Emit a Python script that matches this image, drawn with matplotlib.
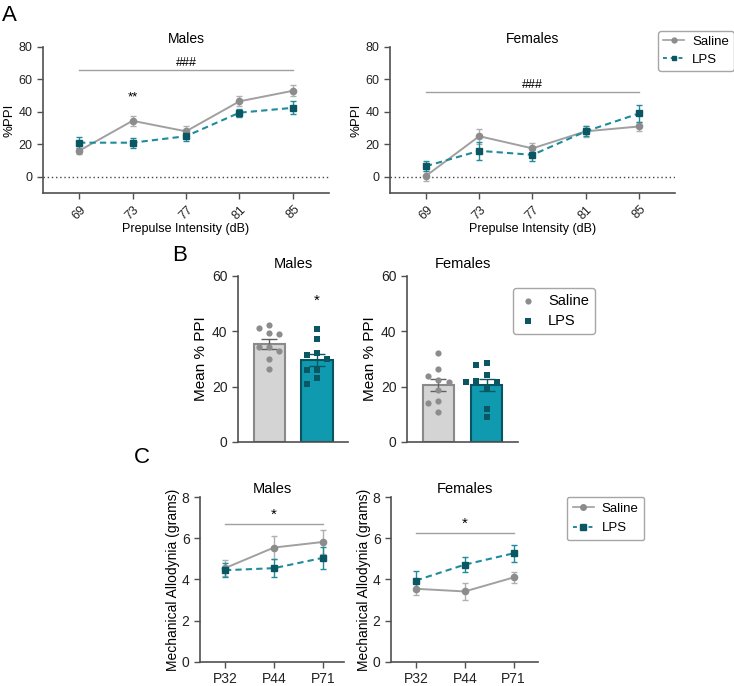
import numpy as np
import matplotlib.pyplot as plt
from matplotlib.lines import Line2D

plt.rcParams['font.family'] = ['Liberation Sans', 'DejaVu Sans']

# ---- data ----
db = [69, 73, 77, 81, 85]
ppi_m_sal = [16, 34.5, 28, 46.5, 53]
ppi_m_sal_err = [2, 3, 3, 3, 3.5]
ppi_m_lps = [21, 21, 25, 39.5, 42.5]
ppi_m_lps_err = [3.5, 3, 3, 2.5, 4]
ppi_f_sal = [0.5, 25, 17.5, 28, 31]
ppi_f_sal_err = [3, 4.5, 3.5, 3.5, 3]
ppi_f_lps = [6.5, 16, 13.5, 28, 39]
ppi_f_lps_err = [3, 5.5, 3.5, 3, 5]

mean_m_sal = [39.5, 41.1, 42.3, 38.9, 34.2, 34.2, 33.0, 29.9, 26.3]
mean_m_lps = [40.7, 37.2, 32.3, 31.4, 29.9, 26.0, 26.0, 23.0, 20.8]
mean_f_sal = [32.1, 26.4, 24.0, 22.4, 21.6, 18.8, 14.9, 14.2, 10.9]
mean_f_lps = [28.7, 27.8, 24.2, 22.2, 21.6, 21.6, 19.2, 11.8, 8.9]

ages = ['P32', 'P44', 'P71']
ma_m_sal = [4.55, 5.55, 5.82]
ma_m_sal_err = [0.4, 0.55, 0.6]
ma_m_lps = [4.45, 4.55, 5.05]
ma_m_lps_err = [0.35, 0.42, 0.52]
ma_f_sal = [3.55, 3.42, 4.1]
ma_f_sal_err = [0.28, 0.4, 0.28]
ma_f_lps = [3.95, 4.72, 5.27]
ma_f_lps_err = [0.48, 0.36, 0.42]

# ---- colours ----
grey_line = '#a0a0a0'
grey_mark = '#8c8c8c'
teal_line = '#1f8b9b'
teal_mark = '#0b5663'
bar_grey = '#d4d4d4'
bar_teal = '#0f9ab0'
spine_c = '#505050'

fig = plt.figure(figsize=(7.34, 6.86), dpi=100)


def style(ax, size=9):
    for s in ['top', 'right']:
        ax.spines[s].set_visible(False)
    for s in ['left', 'bottom']:
        ax.spines[s].set_color(spine_c)
        ax.spines[s].set_linewidth(1.2)
    ax.tick_params(colors=spine_c, labelcolor='#222222', labelsize=size, width=1, length=4)


def line_panel(ax, x, sal, sal_e, lps, lps_e):
    ax.errorbar(x, sal, yerr=sal_e, color=grey_line, marker='o', ms=4.5, mfc=grey_mark,
                mec=grey_mark, lw=1.4, capsize=2, elinewidth=1, ecolor='#b0b0b0')
    ax.errorbar(x, lps, yerr=lps_e, color=teal_line, marker='s', ms=5, mfc=teal_mark,
                mec=teal_mark, lw=1.5, ls=(0, (3, 2)), capsize=2, elinewidth=1,
                ecolor=teal_line)


def line_handles(ms):
    return [Line2D([], [], color=grey_line, marker='o', ms=ms, mfc=grey_mark, mec=grey_mark,
                   lw=1.2, label='Saline'),
            Line2D([], [], color=teal_line, marker='s', ms=ms, mfc=teal_mark, mec=teal_mark,
                   lw=1.4, ls=(0, (2, 2)), label='LPS')]


# ---- Panel A ----
axA1 = fig.add_axes([0.0586, 0.7187, 0.3896, 0.2128])
axA2 = fig.add_axes([0.5313, 0.7187, 0.3883, 0.2128])
for ax, sal, se, lps, le, title in [
        (axA1, ppi_m_sal, ppi_m_sal_err, ppi_m_lps, ppi_m_lps_err, 'Males'),
        (axA2, ppi_f_sal, ppi_f_sal_err, ppi_f_lps, ppi_f_lps_err, 'Females')]:
    style(ax, 9)
    ax.axhline(0, color='#444444', ls=(0, (1, 2)), lw=1)
    line_panel(ax, db, sal, se, lps, le)
    ax.set_xlim(66.3, 87.7)
    ax.set_ylim(-10, 80)
    ax.set_yticks([0, 20, 40, 60, 80])
    ax.set_xticks(db)
    ax.set_xticklabels([str(d) for d in db], rotation=45)
    ax.set_ylabel('%PPI', fontsize=9.5, labelpad=2)
    ax.set_xlabel('Prepulse Intensity (dB)', fontsize=9, labelpad=1)
    ax.set_title(title, fontsize=10, pad=3)

axA1.plot([69, 85], [65.7, 65.7], color=grey_line, lw=1)
axA1.text(77, 66.5, '###', ha='center', va='bottom', fontsize=9)
axA1.text(73, 45, '**', ha='center', va='bottom', fontsize=9.5)
axA2.plot([69, 85], [52, 52], color=grey_line, lw=1)
axA2.text(77, 53, '###', ha='center', va='bottom', fontsize=9)
legA = fig.legend(handles=line_handles(3.5), loc='upper left', bbox_to_anchor=(0.897, 0.955),
                  fontsize=9.5, frameon=True, fancybox=True, handlelength=1.6,
                  handletextpad=0.6, borderpad=0.35, labelspacing=0.45, borderaxespad=0)
legA.get_frame().set_edgecolor('#909090')


# ---- Panel B ----
def swarm(vals, step=0.21, thr=2.6):
    placed = []
    offs = []
    for v in vals:
        for k in [0, -1, 1, -2, 2]:
            o = k * step
            if all(abs(v - pv) > thr or abs(o - po) > 1e-6 for pv, po in placed):
                break
        placed.append((v, o))
        offs.append(o)
    return np.array(offs)


axB1 = fig.add_axes([0.3243, 0.3557, 0.1499, 0.242])
axB2 = fig.add_axes([0.5545, 0.3557, 0.1512, 0.242])
for ax, sal, lps, title in [(axB1, mean_m_sal, mean_m_lps, 'Males'),
                            (axB2, mean_f_sal, mean_f_lps, 'Females')]:
    style(ax, 10)
    for i, (vals, fc, ec, mk, pc, lab) in enumerate([
            (sal, bar_grey, '#8a8a8a', 'o', grey_mark, 'Saline'),
            (lps, bar_teal, '#0a5360', 's', teal_mark, 'LPS')]):
        v = np.array(vals)
        m = v.mean()
        sem = v.std(ddof=1) / np.sqrt(len(v))
        ax.bar(i, m, width=0.65, color=fc, edgecolor=ec, lw=1.5, zorder=1)
        ax.errorbar(i, m, yerr=sem, color='#606060' if i == 0 else teal_mark,
                    capsize=6, lw=1, capthick=1, zorder=3)
        ax.scatter(i + swarm(vals), v, marker=mk, s=20, color=pc, zorder=4, label=lab,
                   linewidths=0)
    ax.set_xlim(-0.65, 1.65)
    ax.set_ylim(0, 60)
    ax.set_yticks([0, 20, 40, 60])
    ax.set_xticks([])
    ax.set_ylabel('Mean % PPI', fontsize=11, labelpad=3)
    ax.set_title(title, fontsize=10.5, pad=6)

axB1.text(1, 48.5, '*', ha='center', va='bottom', fontsize=11)
legB = axB2.legend(loc='upper left', bbox_to_anchor=(0.955, 0.928), fontsize=10.5,
                   frameon=True, fancybox=True, handletextpad=0.7, borderpad=0.4,
                   labelspacing=0.45, borderaxespad=0, handlelength=1.3)
legB.get_frame().set_edgecolor('#909090')

# ---- Panel C ----
axC1 = fig.add_axes([0.2725, 0.035, 0.1962, 0.2405])
axC2 = fig.add_axes([0.5327, 0.035, 0.2003, 0.2405])
xi = np.arange(len(ages))
for ax, sal, se, lps, le, title, xr in [
        (axC1, ma_m_sal, ma_m_sal_err, ma_m_lps, ma_m_lps_err, 'Males', 2.43),
        (axC2, ma_f_sal, ma_f_sal_err, ma_f_lps, ma_f_lps_err, 'Females', 2.5)]:
    style(ax, 10)
    line_panel(ax, xi, sal, se, lps, le)
    ax.set_xlim(-0.51, xr)
    ax.set_ylim(0, 8)
    ax.set_yticks([0, 2, 4, 6, 8])
    ax.set_xticks(xi)
    ax.set_xticklabels(ages)
    ax.set_ylabel('Mechanical Allodynia (grams)', fontsize=10, labelpad=1)
    ax.set_title(title, fontsize=10.5, pad=3)

axC1.plot([0, 2], [6.69, 6.69], color=grey_line, lw=1)
axC1.text(1, 6.8, '*', ha='center', va='bottom', fontsize=11)
axC2.plot([0, 2], [6.25, 6.25], color=grey_line, lw=1)
axC2.text(1, 6.36, '*', ha='center', va='bottom', fontsize=11)
legC = fig.legend(handles=line_handles(4), loc='upper left', bbox_to_anchor=(0.772, 0.276),
                  fontsize=9.5, frameon=True, fancybox=True, handlelength=1.6,
                  handletextpad=0.6, borderpad=0.45, labelspacing=0.55, borderaxespad=0)
legC.get_frame().set_edgecolor('#909090')

# panel letters
fig.text(0.003, 0.978, 'A', fontsize=16, va='center')
fig.text(0.234, 0.627, 'B', fontsize=16, va='center')
fig.text(0.183, 0.333, 'C', fontsize=16, va='center')

fig.savefig('out.png', dpi=100)
